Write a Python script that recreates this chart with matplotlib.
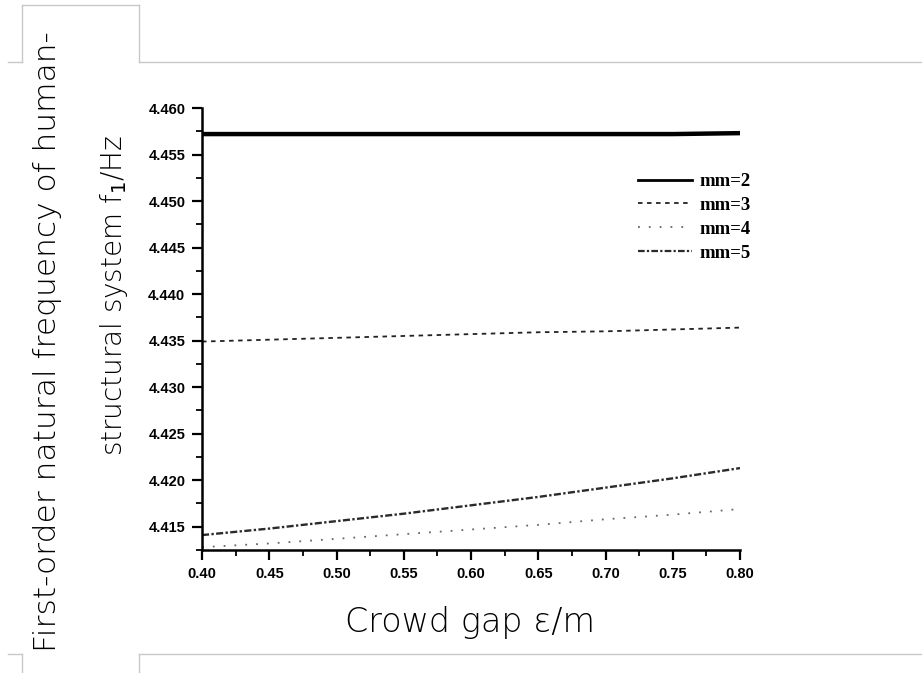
import matplotlib
matplotlib.use('Agg')
import matplotlib.pyplot as plt
from matplotlib.lines import Line2D
from matplotlib.ticker import MultipleLocator, FormatStrFormatter

# values
gap = [0.40, 0.45, 0.50, 0.55, 0.60, 0.65, 0.70, 0.75, 0.80]
f_mm2 = [4.4572, 4.4572, 4.4572, 4.4572, 4.4572, 4.4572, 4.4572, 4.4572, 4.4573]
f_mm3 = [4.4349, 4.4351, 4.4353, 4.4355, 4.4357, 4.4359, 4.4360, 4.4362, 4.4364]
f_mm4 = [4.4128, 4.4132, 4.4137, 4.4142, 4.4147, 4.4152, 4.4158, 4.4163, 4.4169]
f_mm5 = [4.4141, 4.4148, 4.4156, 4.4164, 4.4173, 4.4182, 4.4192, 4.4202, 4.4213]
labels = ['mm=2', 'mm=3', 'mm=4', 'mm=5']

fig = plt.figure(figsize=(9.22, 6.73), dpi=100)
ax = fig.add_axes([0.2191, 0.1828, 0.5835, 0.6567])

ax.plot(gap, f_mm2, color='black', lw=3.2, ls='-')
ax.plot(gap, f_mm3, color='#222222', lw=1.3, ls=(0, (2.5, 2.5)))
ax.plot(gap, f_mm4, color='#666666', lw=1.3, ls=(0, (1, 5)))
ax.plot(gap, f_mm5, color='#2a2a2a', lw=1.7, ls=(0, (3, 1, 1, 1)))

ax.set_xlim(0.40, 0.80)
ax.set_ylim(4.4125, 4.460)

for s in ['top', 'right']:
    ax.spines[s].set_visible(False)
for s in ['left', 'bottom']:
    ax.spines[s].set_linewidth(1.8)

ax.xaxis.set_major_locator(MultipleLocator(0.05))
ax.xaxis.set_minor_locator(MultipleLocator(0.025))
ax.yaxis.set_major_locator(MultipleLocator(0.005))
ax.yaxis.set_minor_locator(MultipleLocator(0.0025))
ax.xaxis.set_major_formatter(FormatStrFormatter('%.2f'))
ax.yaxis.set_major_formatter(FormatStrFormatter('%.3f'))
ax.tick_params(which='major', direction='out', length=7, width=1.6, pad=5)
ax.tick_params(which='minor', direction='out', length=4, width=1.3)
for lab in ax.get_xticklabels() + ax.get_yticklabels():
    lab.set_fontfamily('Liberation Sans')
    lab.set_fontweight('bold')
    lab.set_fontsize(10.5)

handles = [
    Line2D([], [], color='black', lw=2.0, ls='-'),
    Line2D([], [], color='#222222', lw=1.3, ls=(0, (2.5, 2.5))),
    Line2D([], [], color='#666666', lw=1.3, ls=(0, (1, 5))),
    Line2D([], [], color='#2a2a2a', lw=1.6, ls=(0, (3, 1, 1, 1))),
]
ax.legend(handles, labels, loc='upper left', bbox_to_anchor=(0.81, 0.853),
          frameon=False, borderpad=0, borderaxespad=0,
          handlelength=2.9, handletextpad=0.4, labelspacing=0.36,
          prop={'family': 'Liberation Serif', 'weight': 'bold', 'size': 13.5})

# axis titles laid over the scan
fig.text(0.051, 0.492, 'First-order natural frequency of human-', rotation=90,
         ha='center', va='center', fontsize=22.5, family='DejaVu Sans', fontweight='light')
fig.text(0.124, 0.560, 'structural system f$_1$/Hz', rotation=90,
         ha='center', va='center', fontsize=20, family='DejaVu Sans', fontweight='light')
fig.text(0.510, 0.075, 'Crowd gap ε/m', ha='center', va='center',
         fontsize=24, family='DejaVu Sans', fontweight='light')

# light grey cell borders of the source table
W, H = 922.0, 673.0
grey = '#c8c8c8'
def seg(x0, y0, x1, y1):
    fig.add_artist(Line2D([x0 / W, x1 / W], [1 - y0 / H, 1 - y1 / H],
                          color=grey, lw=1.0, transform=fig.transFigure))
seg(8, 62, 22, 62)
seg(22, 62, 22, 5)
seg(22, 5, 139, 5)
seg(139, 5, 139, 62)
seg(139, 62, 922, 62)
seg(8, 654, 22, 654)
seg(22, 654, 22, 673)
seg(139, 673, 139, 654)
seg(139, 654, 922, 654)

fig.savefig('out.png', dpi=100, facecolor='white')
